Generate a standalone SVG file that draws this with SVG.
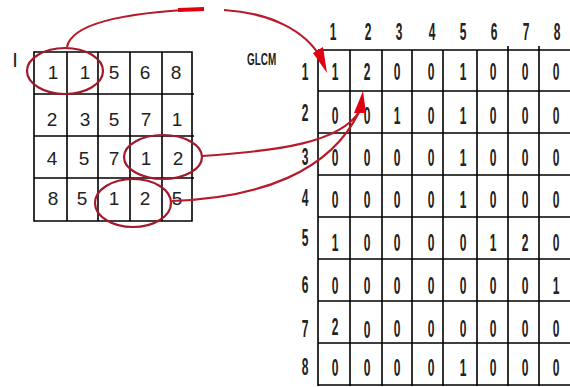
<svg xmlns="http://www.w3.org/2000/svg" width="570" height="387" viewBox="0 0 570 387">
<style>
.ln{stroke:#000;stroke-width:1.6;fill:none}
.t{font-family:"Liberation Sans",Arial,sans-serif;font-size:19px;fill:#222;text-anchor:middle}
.c{font-family:"Liberation Sans",Arial,sans-serif;font-size:24px;font-weight:bold;fill:#222;text-anchor:middle}
.ov{fill:none;stroke:#a3182a;stroke-width:2.2}
.cn{fill:none;stroke:#b81a2a;stroke-width:2.2}
.ah{fill:#e00010}
</style>
<rect width="570" height="387" fill="#fff"/>
<g id="image-matrix">
<text x="15" y="67" class="t" style="font-size:20px">I</text>
<path class="ln" d="M34,52H192V221H34Z M34,94H194 M34,136H194 M34,178H194 M67,52V221 M98,52V221 M130,52V221 M162,52V221"/>
<g class="t">
<text x="53" y="79">1</text><text x="85" y="79">1</text><text x="114" y="79">5</text><text x="145" y="79">6</text><text x="176" y="79">8</text>
<text x="52" y="126">2</text><text x="85" y="126">3</text><text x="114" y="126">5</text><text x="146" y="126">7</text><text x="177" y="126">1</text>
<text x="52" y="165">4</text><text x="84" y="165">5</text><text x="114" y="165">7</text><text x="146" y="165">1</text><text x="178" y="165">2</text>
<text x="53" y="205">8</text><text x="82" y="205">5</text><text x="114" y="205">1</text><text x="145" y="205">2</text><text x="177" y="205">5</text>
</g>
</g>
<g id="glcm-matrix">
<text class="c" transform="scale(0.62,1)" x="422" y="65" style="font-size:16px">GLCM</text>
<path class="ln" d="M318,50H570 M318,91H570 M318,133H570 M318,175H570 M318,217H570 M318,259H570 M318,301H570 M318,343H570 M318,385H570 M318,50V386 M350,50V386 M382,50V386 M412,50V386 M443,50V386 M477,50V386 M508,46V386 M539,46V386"/>
<g transform="scale(0.5,1)" class="c">
<text x="666" y="40">1</text><text x="736" y="40">2</text><text x="798" y="40">3</text><text x="864" y="40">4</text><text x="926" y="40">5</text><text x="988" y="40">6</text><text x="1052" y="40">7</text><text x="1114" y="40">8</text>
<text x="610" y="80">1</text><text x="610" y="121">2</text><text x="610" y="165">3</text><text x="610" y="206">4</text><text x="610" y="246">5</text><text x="610" y="293">6</text><text x="610" y="337">7</text><text x="610" y="375">8</text>
<text x="670" y="80">1</text><text x="734" y="80">2</text><text x="794" y="80">0</text><text x="862" y="80">0</text><text x="926" y="80">1</text><text x="986" y="80">0</text><text x="1050" y="80">0</text><text x="1112" y="80">0</text>
<text x="670" y="124">0</text><text x="734" y="124">0</text><text x="794" y="124">1</text><text x="862" y="124">0</text><text x="926" y="124">1</text><text x="986" y="124">0</text><text x="1050" y="124">0</text><text x="1112" y="124">0</text>
<text x="670" y="166">0</text><text x="734" y="166">0</text><text x="794" y="166">0</text><text x="862" y="166">0</text><text x="926" y="166">1</text><text x="986" y="166">0</text><text x="1050" y="166">0</text><text x="1112" y="166">0</text>
<text x="670" y="208">0</text><text x="734" y="208">0</text><text x="794" y="208">0</text><text x="862" y="208">0</text><text x="926" y="208">1</text><text x="986" y="208">0</text><text x="1050" y="208">0</text><text x="1112" y="208">0</text>
<text x="670" y="251">1</text><text x="734" y="251">0</text><text x="794" y="251">0</text><text x="862" y="251">0</text><text x="926" y="251">0</text><text x="986" y="251">1</text><text x="1050" y="251">2</text><text x="1112" y="251">0</text>
<text x="670" y="294">0</text><text x="734" y="294">0</text><text x="794" y="294">0</text><text x="862" y="294">0</text><text x="926" y="294">0</text><text x="986" y="294">0</text><text x="1050" y="294">0</text><text x="1112" y="294">1</text>
<text x="670" y="335">2</text><text x="734" y="338">0</text><text x="794" y="337">0</text><text x="862" y="337">0</text><text x="926" y="337">0</text><text x="986" y="337">0</text><text x="1050" y="337">0</text><text x="1112" y="337">0</text>
<text x="670" y="376">0</text><text x="734" y="376">0</text><text x="794" y="376">0</text><text x="862" y="376">0</text><text x="926" y="376">1</text><text x="986" y="376">0</text><text x="1050" y="376">0</text><text x="1112" y="376">0</text>
</g>
</g>
<g id="highlights">
<ellipse class="ov" cx="65" cy="71" rx="38" ry="23"/>
<ellipse class="ov" cx="163" cy="157" rx="39" ry="22"/>
<ellipse class="ov" cx="133" cy="203" rx="38" ry="24"/>
</g>
<g id="connectors">
<path class="cn" d="M67,47 C72,22 130,12 204,9"/>
<path d="M178,10 L204,9" stroke="#e00010" stroke-width="4" fill="none"/>
<path class="cn" d="M224,10 C270,13 305,30 321,58"/>
<polygon class="ah" points="313,53 323,47 327,73"/>
<path class="cn" d="M202,156 C280,151 340,142 359,112"/>
<path class="cn" d="M172,201 C260,198 330,172 359,112"/>
<polygon class="ah" points="354,113 363,91 366,113"/>
</g>
</svg>
